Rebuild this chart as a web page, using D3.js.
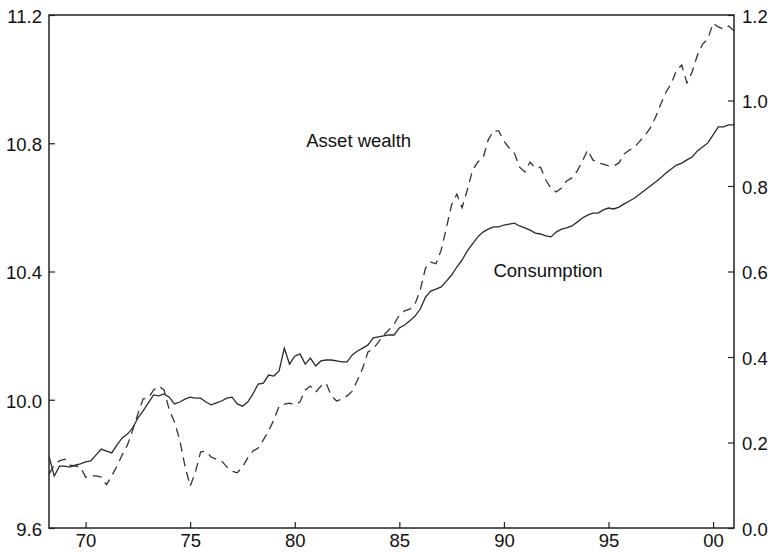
<!DOCTYPE html>
<html>
<head>
<meta charset="utf-8">
<script src="https://cdn.jsdelivr.net/npm/d3@7"></script>
<style>
  body { margin: 0; background: #fff; }
  svg text { font-family: "Liberation Sans", Arial, sans-serif; fill: #111; }
</style>
</head>
<body>
<svg id="chart" width="772" height="552"></svg>
<script>
//quarterly observations, first quarter plotted at 1968.25
var startQuarter = 1968.25;

//log consumption (left axis)
var consumption = [
  9.824, 9.762, 9.793, 9.793, 9.790, 9.796, 9.800, 9.806, 9.809, 9.828,
  9.846, 9.840, 9.834, 9.859, 9.881, 9.893, 9.912, 9.943, 9.965, 9.990,
  10.015, 10.012, 10.018, 10.008, 9.987, 9.993, 10.002, 10.008, 10.005, 10.005,
  9.993, 9.984, 9.990, 9.996, 10.005, 10.008, 9.987, 9.980, 9.993, 10.018,
  10.049, 10.052, 10.077, 10.074, 10.090, 10.161, 10.111, 10.136, 10.143, 10.111,
  10.130, 10.105, 10.121, 10.124, 10.124, 10.121, 10.118, 10.118, 10.140, 10.152,
  10.161, 10.171, 10.193, 10.196, 10.199, 10.202, 10.202, 10.224, 10.233, 10.246,
  10.261, 10.283, 10.320, 10.339, 10.345, 10.352, 10.370, 10.389, 10.414, 10.436,
  10.464, 10.486, 10.508, 10.523, 10.532, 10.539, 10.539, 10.545, 10.548, 10.551,
  10.542, 10.536, 10.529, 10.520, 10.517, 10.511, 10.508, 10.523, 10.532, 10.536,
  10.542, 10.554, 10.567, 10.576, 10.582, 10.582, 10.592, 10.598, 10.595, 10.601,
  10.611, 10.620, 10.629, 10.642, 10.654, 10.667, 10.679, 10.692, 10.707, 10.720,
  10.732, 10.738, 10.748, 10.757, 10.776, 10.788, 10.801, 10.826, 10.851, 10.851,
  10.857, 10.857
];

//asset wealth (right axis)
var wealth = [
  0.126, 0.147, 0.157, 0.161, 0.147, 0.145, 0.143, 0.119, 0.122, 0.122,
  0.119, 0.101, 0.122, 0.145, 0.171, 0.194, 0.229, 0.267, 0.302, 0.304,
  0.323, 0.332, 0.323, 0.276, 0.248, 0.206, 0.145, 0.098, 0.131, 0.178,
  0.180, 0.166, 0.161, 0.157, 0.143, 0.133, 0.129, 0.143, 0.164, 0.180,
  0.187, 0.206, 0.227, 0.253, 0.285, 0.290, 0.292, 0.288, 0.295, 0.323,
  0.332, 0.318, 0.332, 0.339, 0.309, 0.297, 0.302, 0.309, 0.320, 0.346,
  0.374, 0.412, 0.419, 0.435, 0.451, 0.463, 0.477, 0.498, 0.508, 0.512,
  0.524, 0.557, 0.608, 0.622, 0.618, 0.650, 0.702, 0.756, 0.781, 0.749,
  0.791, 0.837, 0.856, 0.865, 0.908, 0.929, 0.929, 0.905, 0.889, 0.877,
  0.844, 0.833, 0.856, 0.842, 0.844, 0.814, 0.795, 0.786, 0.795, 0.812,
  0.819, 0.835, 0.858, 0.884, 0.861, 0.854, 0.851, 0.847, 0.847, 0.854,
  0.875, 0.884, 0.891, 0.905, 0.919, 0.936, 0.961, 0.992, 1.020, 1.039,
  1.071, 1.083, 1.041, 1.067, 1.106, 1.132, 1.144, 1.181, 1.172, 1.167,
  1.174, 1.163
];

//tick values and labels
var xTicks = [1970, 1975, 1980, 1985, 1990, 1995, 2000];
var xTickLabels = ["70", "75", "80", "85", "90", "95", "00"];
var leftTicks = [9.6, 10.0, 10.4, 10.8, 11.2];
var rightTicks = [0.0, 0.2, 0.4, 0.6, 0.8, 1.0, 1.2];

//series labels
var seriesLabels = ["Asset wealth", "Consumption"];

var quarters = consumption.map(function(d, i) { return startQuarter + i * 0.25; });

//plot box (named so they don't clash with window.top)
var boxLeft = 49, boxRight = 734, boxTop = 15, boxBottom = 528;
var fontSize = "18.5px";
var ink = "#222";

var svg = d3.select("#chart");

var x = d3.scaleLinear()
  .domain([1968.25, 2001.0])
  .range([boxLeft, boxRight]);

var yLeft = d3.scaleLinear()
  .domain([9.6, 11.2])
  .range([boxBottom, boxTop]);

var yRight = d3.scaleLinear()
  .domain([0, 1.2])
  .range([boxBottom, boxTop]);

//keep lines inside the box
svg.append("clipPath")
  .attr("id", "plotClip")
  .append("rect")
  .attr("x", boxLeft).attr("y", boxTop)
  .attr("width", boxRight - boxLeft).attr("height", boxBottom - boxTop);

var lines = svg.append("g").attr("clip-path", "url(#plotClip)");

var consLine = d3.line()
  .x(function(d, i) { return x(quarters[i]); })
  .y(function(d) { return yLeft(d); });

var wealthLine = d3.line()
  .x(function(d, i) { return x(quarters[i]); })
  .y(function(d) { return yRight(d); });

lines.append("path")
  .datum(wealth)
  .attr("d", wealthLine)
  .attr("fill", "none")
  .attr("stroke", "#333")
  .attr("stroke-width", 1.3)
  .attr("stroke-dasharray", "9,6");

lines.append("path")
  .datum(consumption)
  .attr("d", consLine)
  .attr("fill", "none")
  .attr("stroke", "#2a2a2a")
  .attr("stroke-width", 1.3);

//axes, ticks point inward
var bottomAxis = d3.axisBottom(x)
  .tickValues(xTicks)
  .tickFormat(function(d, i) { return xTickLabels[i]; })
  .tickSizeInner(-6)
  .tickSizeOuter(0)
  .tickPadding(6);

var leftAxis = d3.axisLeft(yLeft)
  .tickValues(leftTicks)
  .tickFormat(d3.format(".1f"))
  .tickSizeInner(-6)
  .tickSizeOuter(0)
  .tickPadding(7);

var rightAxis = d3.axisRight(yRight)
  .tickValues(rightTicks)
  .tickFormat(d3.format(".1f"))
  .tickSizeInner(-6)
  .tickSizeOuter(0)
  .tickPadding(8);

var gb = svg.append("g")
  .attr("transform", "translate(0," + boxBottom + ")")
  .call(bottomAxis);

var gl = svg.append("g")
  .attr("transform", "translate(" + boxLeft + ",0)")
  .call(leftAxis);

var gr = svg.append("g")
  .attr("transform", "translate(" + boxRight + ",0)")
  .call(rightAxis);

[gb, gl, gr].forEach(function(g) {
  g.select(".domain").remove();
  g.selectAll(".tick line").attr("stroke", ink).attr("stroke-width", 1.2);
  g.selectAll(".tick text")
    .attr("fill", "#111")
    .style("font-family", "'Liberation Sans', Arial, sans-serif")
    .style("font-size", fontSize);
});
gl.selectAll(".tick text").attr("dy", "0.4em");
gr.selectAll(".tick text").attr("dy", "0.4em");

//frame
svg.append("rect")
  .attr("x", boxLeft).attr("y", boxTop)
  .attr("width", boxRight - boxLeft).attr("height", boxBottom - boxTop)
  .attr("fill", "none")
  .attr("stroke", ink)
  .attr("stroke-width", 1.5);

//series names
svg.append("text")
  .attr("x", x(1980.55)).attr("y", yLeft(10.787))
  .style("font-size", fontSize)
  .text(seriesLabels[0]);

svg.append("text")
  .attr("x", x(1989.5)).attr("y", yLeft(10.382))
  .style("font-size", fontSize)
  .text(seriesLabels[1]);
</script>
</body>
</html>
